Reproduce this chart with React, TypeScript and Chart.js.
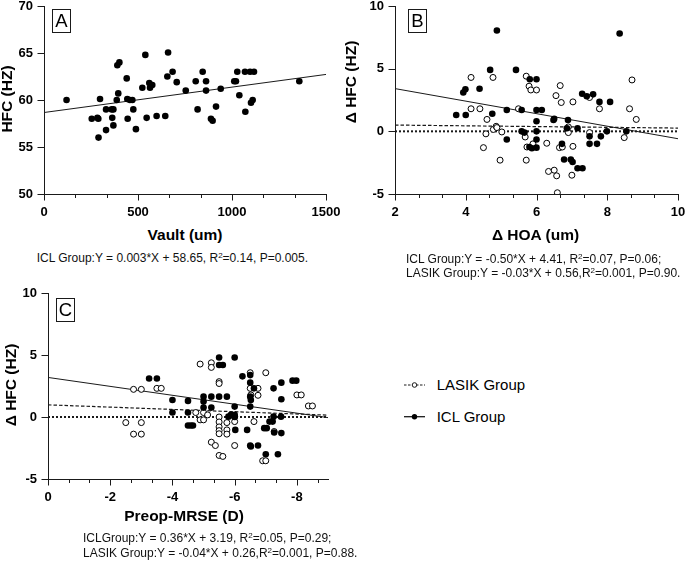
import React, { useEffect, useRef } from "react";
import { Chart, registerables } from "chart.js";

Chart.register(...registerables);

const FONT = "'Liberation Sans', Arial, Helvetica, sans-serif";
const INK = "#1a1a1a";

// ---------- Panel A: Vault vs HFC (ICL group)
const aVault = [120, 254, 284, 289, 290, 298, 330, 330, 360, 369, 363, 369, 387, 395, 390, 401, 440, 443, 457, 470, 445, 475, 489, 523, 539, 546, 560, 564, 576, 599, 645, 656, 660, 684, 706, 754, 807, 817, 844, 862, 862, 888, 897, 915, 940, 1012, 1021, 1028, 1069, 1096, 1117, 1039, 1071, 1101, 1110, 1358];
const aHfc = [60, 58, 58.1, 58, 56, 60.1, 56.8, 59, 59, 59, 58.1, 57.3, 60, 60.7, 63.7, 64, 62.3, 60.1, 60, 60, 58, 59, 56.9, 61.3, 64.8, 58.1, 61.8, 61.3, 61.6, 58.3, 58.3, 62.5, 65.06, 63, 61.9, 61, 62, 59, 63, 62, 61, 58, 57.8, 59.3, 61.2, 62, 62, 63, 63, 63, 63, 60.5, 58.75, 59.7, 60, 62];
const aFitX = [0, 1500];
const aFitY = [58.67, 62.72];
const aXRange = [0, 1500];
const aYRange = [50, 70];
const aXLabels = [0, 500, 1000, 1500];
const aXStep = 500 / 3;
const aYLabels = [50, 55, 60, 65, 70];

// ---------- Panel B: delta HOA vs delta HFC
const bIclHoa = [3.73, 3.93, 3.99, 4.0, 4.39, 4.75, 4.69, 4.88, 5.16, 5.16, 5.42, 5.58, 5.58, 5.66, 5.8, 5.87, 5.81, 6.0, 6.0, 6.15, 6.0, 6.0, 6.0, 6.0, 6.48, 6.5, 6.72, 6.78, 6.86, 6.89, 6.97, 7.02, 7.16, 7.16, 7.3, 7.29, 7.42, 7.6, 7.5, 7.5, 7.71, 7.78, 7.82, 7.99, 8.08, 8.35, 8.54];
const bIclHfc = [1.3, 3.1, 3.35, 1.3, 3.4, 1.4, 4.9, 8.05, -0.65, 1.7, 4.9, 1.7, 0.0, -0.1, -1.25, -1.35, 4.15, 4.15, 1.7, 1.7, 0.8, 0.0, -0.65, -1.3, 0.9, 1.0, -1.0, -2.25, 0.25, 0.9, -2.25, -2.45, 0.25, -2.95, -2.95, 3.0, 2.8, 2.95, -0.4, -1.0, -1.0, 2.35, -0.4, 0.0, 2.35, 7.8, 0.0];
const bLasikHoa = [4.15, 4.15, 4.4, 4.5, 4.6, 4.57, 4.77, 4.78, 4.86, 4.88, 4.97, 5.02, 5.49, 5.68, 5.71, 5.73, 5.71, 5.79, 5.84, 6.0, 5.9, 6.29, 6.34, 6.5, 6.55, 6.57, 6.59, 6.65, 6.67, 6.7, 6.73, 6.9, 6.9, 7.03, 7.03, 7.0, 7.5, 7.5, 7.78, 8.48, 8.63, 8.7, 8.82];
const bLasikHfc = [4.3, 1.8, 1.8, -1.3, 0.95, -0.2, 4.3, 0.15, 0.4, 0.3, -2.3, -0.05, 1.8, -0.45, 4.4, -1.25, -2.3, 3.6, 3.3, 3.3, -1.0, -0.95, -3.2, -3.1, 2.85, -3.55, -4.9, -1.3, 3.65, 2.3, -1.25, 0.35, -0.1, 2.35, -1.2, -3.5, 2.7, -0.1, 1.8, -0.5, 1.8, 4.1, 0.95];
const bFitX = [2, 10];
const bIclFitY = [3.41, -0.59];
const bLasikFitY = [0.5, 0.26];
const bZeroY = [0, 0];
const bXRange = [2, 10];
const bYRange = [-5, 10];
const bXLabels = [2, 4, 6, 8, 10];
const bXStep = 2 / 3;
const bYLabels = [-5, 0, 5, 10];

// ---------- Panel C: Preop-MRSE vs delta HFC
const cIclMrse = [-3.25, -3.5, -4.0, -4.0, -4.5, -4.5, -4.5, -4.59, -4.66, -5.0, -5.0, -5.0, -5.25, -5.25, -5.5, -5.5, -5.62, -5.5, -5.75, -5.8, -5.88, -6.0, -6.0, -6.0, -6.0, -6.02, -6.25, -6.4, -6.5, -6.5, -6.5, -6.52, -6.5, -6.5, -6.52, -6.62, -6.75, -6.95, -7.03, -7.0, -7.12, -7.22, -7.25, -7.25, -7.27, -7.39, -7.49, -7.5, -7.5, -7.5, -7.86, -7.98];
const cIclHfc = [3.1, 3.1, 1.37, 0.36, 1.3, 0.36, -0.69, -0.69, -0.69, 1.64, 1.24, 0.76, 1.64, 0.76, 4.8, 4.19, 4.19, 1.64, 1.64, 0.03, 0.17, 0.17, 4.8, 0.84, 0, -1.04, 3.28, -1.04, 3.38, 2.77, 1.64, 1.37, 0.84, -2.3, -2.38, 2.31, -2.3, -0.9, -0.9, -3.0, -0.37, -0.37, 2.31, 0.03, -1.25, -3.0, 0.03, 2.77, 1.43, -1.3, 2.93, 2.93];
const cLasikMrse = [-2.5, -2.75, -2.75, -3.0, -3.0, -3.0, -3.5, -3.64, -4.75, -4.89, -4.89, -5.0, -5.0, -5.13, -5.25, -5.25, -5.25, -5.38, -5.5, -5.5, -5.5, -5.5, -5.5, -5.5, -5.5, -5.5, -5.62, -5.75, -5.75, -5.75, -6.0, -6.0, -6.0, -6.5, -6.5, -6.52, -6.62, -6.75, -6.75, -7.0, -6.9, -7.0, -7.27, -8.0, -8.14, -8.37, -8.5];
const cLasikHfc = [-0.45, 2.23, -1.38, 2.23, -0.45, -1.38, 2.31, 2.31, 0.36, 4.27, -0.23, -0.23, 0.36, 0.17, 4.37, 4.0, -2.03, -2.3, 2.85, 2.7, 0, -0.4, -0.8, -1.1, -1.35, -3.1, -3.18, -0.45, -1.04, -1.38, 0.03, -0.37, -2.3, 3.57, 2.31, 1.78, -0.37, 2.31, 1.75, 3.57, -3.53, -3.53, -1.17, 1.78, 1.78, 0.89, 0.89];
const cFitX = [0, -9];
const cIclFitY = [3.19, -0.05];
const cLasikFitY = [0.98, 0.15];
const cZeroY = [0, 0];
const cXRange = [-9, 0];
const cYRange = [-5, 10];
const cXLabels = [0, -2, -4, -6, -8];
const cXStep = -2 / 3;
const cYLabels = [-5, 0, 5, 10];

// ---------- helpers
const pts = (xs: number[], ys: number[]) => xs.map((x, i) => ({ x, y: ys[i] }));

const filledSet = (xs: number[], ys: number[]) => ({
  data: pts(xs, ys),
  showLine: false,
  pointRadius: 3.3,
  pointBackgroundColor: "#000",
  pointBorderColor: "#000",
  pointBorderWidth: 0,
  order: 1,
});
const openSet = (xs: number[], ys: number[]) => ({
  data: pts(xs, ys),
  showLine: false,
  pointRadius: 3,
  pointBackgroundColor: "#fff",
  pointBorderColor: "#000",
  pointBorderWidth: 1,
  order: 2,
});
const lineSet = (xs: number[], ys: number[], dash: number[], width: number) => ({
  data: pts(xs, ys),
  showLine: true,
  pointRadius: 0,
  borderColor: INK,
  borderWidth: width,
  borderDash: dash,
  borderCapStyle: "butt",
  fill: false,
  order: 3,
});

function stepTicks(start: number, end: number, step: number) {
  const out: number[] = [];
  const n = Math.round((end - start) / step + 1e-6);
  for (let i = 0; i <= n; i++) out.push(start + i * step);
  return out;
}

const tickMarks = {
  id: "tickMarks",
  afterDraw(chart: any) {
    const ctx = chart.ctx;
    const xs = chart.scales.x;
    const ys = chart.scales.y;
    ctx.save();
    ctx.strokeStyle = INK;
    ctx.lineWidth = 1;
    xs.ticks.forEach((t: any) => {
      const px = Math.round(xs.getPixelForValue(t.value)) + 0.5;
      const len = t.label ? 6.5 : 4;
      ctx.beginPath();
      ctx.moveTo(px, xs.top);
      ctx.lineTo(px, xs.top + len);
      ctx.stroke();
    });
    ys.ticks.forEach((t: any) => {
      const py = Math.round(ys.getPixelForValue(t.value)) + 0.5;
      ctx.beginPath();
      ctx.moveTo(ys.right - 6.5, py);
      ctx.lineTo(ys.right, py);
      ctx.stroke();
    });
    ctx.restore();
  },
};

type Spec = {
  left: number;
  top: number;
  w: number;
  h: number;
  padding: { left: number; top: number; right: number; bottom: number };
  yW: number;
  xH: number;
  xRange: number[];
  yRange: number[];
  reverse: boolean;
  xTicks: number[];
  xLabels: number[];
  yLabels: number[];
  datasets: any[];
};

const labelCb = (labels: number[]) => (v: number) => {
  const hit = labels.find((l) => Math.abs(l - v) < 1e-6);
  return hit === undefined ? "" : String(hit);
};

const tickFont = { family: FONT, size: 13, weight: "bold" as const };

function buildChart(canvas: HTMLCanvasElement, s: Spec) {
  return new Chart(canvas, {
    type: "scatter",
    data: { datasets: s.datasets },
    options: {
      animation: false,
      responsive: false,
      events: [],
      layout: { padding: s.padding },
      plugins: { legend: { display: false }, tooltip: { enabled: false }, title: { display: false } },
      scales: {
        x: {
          type: "linear",
          min: s.xRange[0],
          max: s.xRange[1],
          reverse: s.reverse,
          afterBuildTicks: (sc: any) => {
            sc.ticks = s.xTicks.map((v) => ({ value: v }));
          },
          afterFit: (sc: any) => {
            sc.height = s.xH;
            sc.paddingLeft = 0;
            sc.paddingRight = 0;
          },
          grid: { display: false, drawTicks: true, tickLength: 8 },
          border: { display: true, color: INK, width: 1 },
          ticks: { autoSkip: false, maxRotation: 0, padding: 3, color: "#000", font: tickFont, callback: labelCb(s.xLabels) as any },
        },
        y: {
          type: "linear",
          min: s.yRange[0],
          max: s.yRange[1],
          afterBuildTicks: (sc: any) => {
            sc.ticks = s.yLabels.map((v) => ({ value: v }));
          },
          afterFit: (sc: any) => {
            sc.width = s.yW;
            sc.paddingTop = 0;
            sc.paddingBottom = 0;
          },
          grid: { display: false, drawTicks: true, tickLength: 8 },
          border: { display: true, color: INK, width: 1 },
          ticks: { autoSkip: false, padding: 3, color: "#000", font: tickFont, callback: labelCb(s.yLabels) as any },
        },
      },
    } as any,
    plugins: [tickMarks],
  });
}

const panelA: Spec = {
  left: 0, top: 0, w: 345, h: 225,
  padding: { left: 0, top: 6, right: 19, bottom: 0 },
  yW: 44, xH: 31,
  xRange: aXRange, yRange: aYRange, reverse: false,
  xTicks: stepTicks(aXRange[0], aXRange[1], aXStep),
  xLabels: aXLabels, yLabels: aYLabels,
  datasets: [filledSet(aVault, aHfc), lineSet(aFitX, aFitY, [], 1)],
};

const panelB: Spec = {
  left: 340, top: 0, w: 345, h: 225,
  padding: { left: 0, top: 6, right: 7, bottom: 0 },
  yW: 55, xH: 31,
  xRange: bXRange, yRange: bYRange, reverse: false,
  xTicks: stepTicks(bXRange[0], bXRange[1], bXStep),
  xLabels: bXLabels, yLabels: bYLabels,
  datasets: [
    filledSet(bIclHoa, bIclHfc),
    openSet(bLasikHoa, bLasikHfc),
    lineSet(bFitX, bIclFitY, [], 1),
    lineSet(bFitX, bLasikFitY, [3.5, 2], 1.2),
    lineSet(bFitX, bZeroY, [2, 2], 2),
  ],
};

const panelC: Spec = {
  left: 0, top: 286, w: 345, h: 225,
  padding: { left: 0, top: 7, right: 17, bottom: 0 },
  yW: 48, xH: 32,
  xRange: cXRange, yRange: cYRange, reverse: true,
  xTicks: stepTicks(0, -8.7, cXStep),
  xLabels: cXLabels, yLabels: cYLabels,
  datasets: [
    filledSet(cIclMrse, cIclHfc),
    openSet(cLasikMrse, cLasikHfc),
    lineSet(cFitX, cIclFitY, [], 1),
    lineSet(cFitX, cLasikFitY, [3.5, 2], 1.2),
    lineSet(cFitX, cZeroY, [2, 2], 2),
  ],
};

function Panel({ spec }: { spec: Spec }) {
  const ref = useRef<HTMLCanvasElement | null>(null);
  useEffect(() => {
    const chart = buildChart(ref.current as HTMLCanvasElement, spec);
    return () => chart.destroy();
  }, []);
  return (
    <canvas
      ref={ref}
      width={spec.w}
      height={spec.h}
      style={{ position: "absolute", left: spec.left, top: spec.top, width: spec.w, height: spec.h }}
    />
  );
}

function XTitle({ cx, top, text }: { cx: number; top: number; text: string }) {
  const w = 200;
  return (
    <div style={{ position: "absolute", left: cx - w / 2, top, width: w, height: 18, lineHeight: "18px", textAlign: "center", fontWeight: "bold", fontSize: 15.5, whiteSpace: "nowrap" }}>
      {text}
    </div>
  );
}

function YTitle({ cx, cy, text }: { cx: number; cy: number; text: string }) {
  const w = 140;
  return (
    <div style={{ position: "absolute", left: cx - w / 2, top: cy - 9, width: w, height: 18, lineHeight: "18px", textAlign: "center", fontWeight: "bold", fontSize: 15.5, whiteSpace: "nowrap", transform: "rotate(-90deg)" }}>
      {text}
    </div>
  );
}

function Tag({ x, y, text }: { x: number; y: number; text: string }) {
  return (
    <div style={{ position: "absolute", left: x, top: y, width: 19, height: 24, boxSizing: "border-box", border: `1px solid ${INK}`, fontSize: 18.5, lineHeight: "22px", textAlign: "center" }}>
      {text}
    </div>
  );
}

const Sup = ({ children }: { children: any }) => (
  <span style={{ fontSize: 8, position: "relative", top: -4, lineHeight: 0 }}>{children}</span>
);

function Caption({ x, y, lh, lines }: { x: number; y: number; lh: number; lines: any[] }) {
  return (
    <div style={{ position: "absolute", left: x, top: y, fontSize: 12, lineHeight: `${lh}px`, whiteSpace: "nowrap", color: "#111" }}>
      {lines.map((l, i) => (
        <div key={i}>{l}</div>
      ))}
    </div>
  );
}

export default function App() {
  return (
    <div style={{ position: "absolute", left: 0, top: 0, width: 685, height: 565, overflow: "hidden", background: "#fff", fontFamily: FONT, color: "#000" }}>
      <Panel spec={panelA} />
      <Panel spec={panelB} />
      <Panel spec={panelC} />

      <Tag x={52} y={9} text="A" />
      <Tag x={408} y={9} text="B" />
      <Tag x={56} y={298} text="C" />

      <YTitle cx={7} cy={98.5} text="HFC (HZ)" />
      <YTitle cx={351} cy={82} text="Δ HFC (HZ)" />
      <YTitle cx={11} cy={385} text="Δ HFC (HZ)" />

      <XTitle cx={185} top={226} text="Vault (um)" />
      <XTitle cx={535.5} top={226} text="Δ HOA (um)" />
      <XTitle cx={184} top={506.5} text="Preop-MRSE (D)" />

      <Caption x={36.7} y={250.5} lh={14} lines={[<>ICL Group:Y = 0.003*X + 58.65, R<Sup>2</Sup>=0.14, P=0.005.</>]} />
      <Caption
        x={406}
        y={252}
        lh={14.3}
        lines={[
          <>ICL Group:Y = -0.50*X + 4.41, R<Sup>2</Sup>=0.07, P=0.06;</>,
          <>LASIK Group:Y = -0.03*X + 0.56,R<Sup>2</Sup>=0.001, P=0.90.</>,
        ]}
      />
      <Caption
        x={83}
        y={531.3}
        lh={14.7}
        lines={[
          <>ICLGroup:Y = 0.36*X + 3.19, R<Sup>2</Sup>=0.05, P=0.29;</>,
          <>LASIK Group:Y = -0.04*X + 0.26,R<Sup>2</Sup>=0.001, P=0.88.</>,
        ]}
      />

      <svg style={{ position: "absolute", left: 400, top: 378, overflow: "visible" }} width={30} height={46}>
        <line x1={4} y1={7} x2={25} y2={7} stroke={INK} strokeWidth={1} strokeDasharray="2.5 1.5" />
        <circle cx={14.5} cy={7} r={2.3} fill="#fff" stroke={INK} strokeWidth={1} />
        <line x1={4} y1={38.7} x2={25} y2={38.7} stroke={INK} strokeWidth={1.3} />
        <circle cx={14.5} cy={38.7} r={2.7} fill="#000" />
      </svg>
      <div style={{ position: "absolute", left: 436.7, top: 376, fontSize: 15, lineHeight: "18px", whiteSpace: "nowrap" }}>LASIK Group</div>
      <div style={{ position: "absolute", left: 436.7, top: 407.7, fontSize: 15, lineHeight: "18px", whiteSpace: "nowrap" }}>ICL Group</div>
    </div>
  );
}
